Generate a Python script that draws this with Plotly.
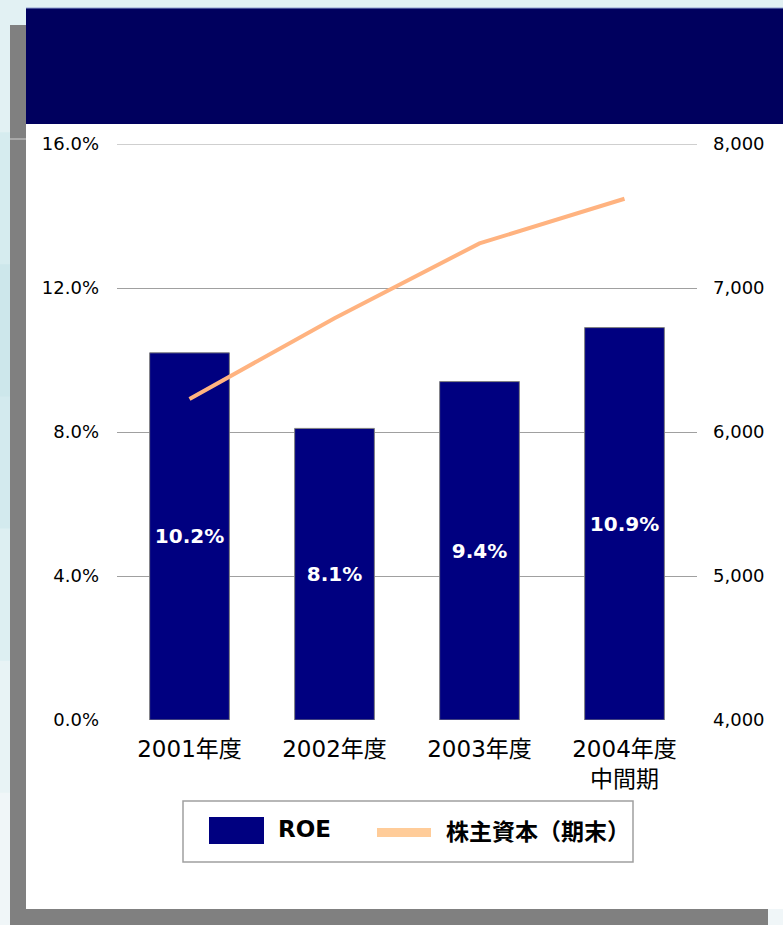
import plotly.graph_objects as go

# ---- data ----
categories = ["2001年度", "2002年度", "2003年度", "2004年度<br>中間期"]
roe_pct = [10.2, 8.1, 9.4, 10.9]          # ROE (%)
equity = [6230, 6790, 7310, 7620]         # 株主資本（期末）
roe_ticks = [0, 4, 8, 12, 16]
equity_ticks = [4000, 5000, 6000, 7000, 8000]
roe_name = "ROE"
equity_name = "株主資本（期末）"

W, H = 783, 925
ML, MR, MT, MB = 117, 86, 144, 205
PW, PH = W - ML - MR, H - MT - MB

NAVY = "#000080"
HEADER = "#00005E"
PEACH = "#FFB380"
PEACH_KEY = "#FFCC99"
FONT = "DejaVu Sans, Noto Sans CJK JP, sans-serif"


def px_x(x):
    return (x - ML) / PW


def px_y(y):
    return (H - MB - y) / PH


def rect(x0, y0, x1, y1, fill, line=None, lw=0, layer="below"):
    return dict(type="rect", xref="paper", yref="paper",
                x0=px_x(x0), x1=px_x(x1), y0=px_y(y1), y1=px_y(y0),
                fillcolor=fill, line=dict(color=line or fill, width=lw),
                layer=layer)


fig = go.Figure()

fig.add_trace(go.Bar(
    x=categories, y=roe_pct, name=roe_name,
    marker=dict(color=NAVY, line=dict(color="#808080", width=1)),
    text=[f"{v:.1f}%" for v in roe_pct],
    textposition="inside", insidetextanchor="middle", textangle=0,
    textfont=dict(family=FONT, size=20, color="white", weight="bold"),
    width=0.55, showlegend=False, hoverinfo="skip",
))

fig.add_trace(go.Scatter(
    x=categories, y=equity, name=equity_name, yaxis="y2",
    mode="lines", line=dict(color=PEACH, width=4),
    showlegend=False, hoverinfo="skip",
))

shapes = []
# page background bands (soft cyan gradient on the left edge)
bands = ["#E2F1F3", "#D6ECEF", "#CDE7EB", "#D3EAEE", "#DDEFF2", "#E8F3F5", "#F0F6F8"]
bh = H / len(bands)
for i, c in enumerate(bands):
    shapes.append(rect(0, i * bh, W, (i + 1) * bh + 1, c))
# drop shadow
shapes.append(rect(10, 25, 768, 925, "#808080"))
shapes.append(rect(10, 138.5, 26, 139.5, "#D0D0D0"))
# white panel and header bar
shapes.append(rect(26, 8, W + 2, 909, "white"))
shapes.append(rect(26, 8, W + 2, 124, HEADER))
shapes.append(rect(26, 7.5, W + 2, 8.5, "#8FA0D0"))
# top gridline at the upper end of the ROE range
shapes.append(dict(type="line", xref="paper", yref="y", x0=0, x1=1,
                   y0=roe_ticks[-1], y1=roe_ticks[-1],
                   line=dict(color="#A0A0A0", width=1), layer="below"))
# legend frame and keys
shapes.append(rect(183, 801, 633, 862, "white", "#A0A0A0", 1.5, layer="above"))
shapes.append(rect(209, 817, 264, 844, NAVY, layer="above"))
shapes.append(rect(377, 828, 431, 837, PEACH_KEY, layer="above"))

annotations = [
    dict(text=f"<b>{roe_name}</b>", xref="paper", yref="paper",
         x=px_x(276), y=px_y(829), xanchor="left", yanchor="middle",
         showarrow=False, font=dict(family=FONT, size=23, color="black")),
    dict(text=f"<b>{equity_name}</b>", xref="paper", yref="paper",
         x=px_x(444), y=px_y(832), xanchor="left", yanchor="middle",
         showarrow=False, font=dict(family=FONT, size=23, color="black")),
]

fig.update_layout(
    width=W, height=H,
    margin=dict(l=ML, r=MR, t=MT, b=MB, pad=0),
    paper_bgcolor="white", plot_bgcolor="rgba(0,0,0,0)",
    shapes=shapes, annotations=annotations,
    bargap=0.45, showlegend=False,
    font=dict(family=FONT, color="black"),
    xaxis=dict(
        showgrid=False, showline=False, zeroline=False,
        tickfont=dict(family=FONT, size=23, color="black"),
        ticks="", ticklabelstandoff=13,
    ),
    yaxis=dict(
        range=[roe_ticks[0], roe_ticks[-1]], tickvals=roe_ticks,
        ticktext=[f"{v:.1f}%" for v in roe_ticks],
        showgrid=True, gridcolor="#A0A0A0", gridwidth=1,
        zeroline=False, showline=False, ticks="",
        tickfont=dict(family=FONT, size=18, color="black"),
        ticklabelstandoff=17,
    ),
    yaxis2=dict(
        range=[equity_ticks[0], equity_ticks[-1]], tickvals=equity_ticks,
        ticktext=[f"{v:,}" for v in equity_ticks],
        overlaying="y", side="right",
        showgrid=False, zeroline=False, showline=False, ticks="",
        tickfont=dict(family=FONT, size=18, color="black"),
        ticklabelstandoff=15,
    ),
)

fig.write_html("out.html", config={"displayModeBar": False})
